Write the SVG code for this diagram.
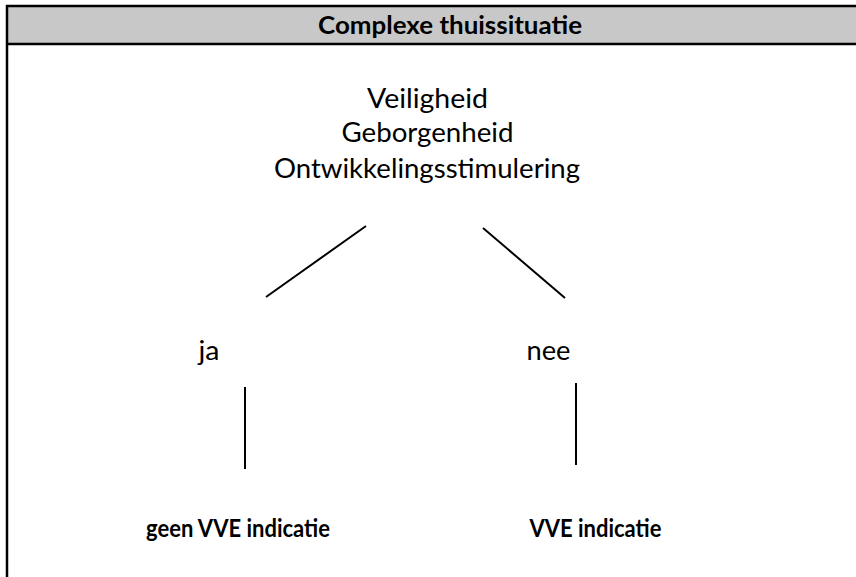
<svg xmlns="http://www.w3.org/2000/svg" width="856" height="577" viewBox="0 0 856 577">
<style>
.t{font-family:Lato,"Open Sans","Liberation Sans",sans-serif;font-size:26px;fill:#000;text-anchor:middle}
.b{font-weight:bold;font-size:25px}
.c{stroke:#000;stroke-width:2;fill:none}
</style>
<rect x="0" y="0" width="856" height="577" fill="#fff"/>
<g id="header">
<rect x="7" y="6" width="860" height="38" fill="#c8c8c8"/>
<line x1="6" y1="6" x2="856" y2="6" stroke="#000" stroke-width="2.5"/>
<line x1="6" y1="44" x2="856" y2="44" stroke="#000" stroke-width="2.5"/>
<line x1="7" y1="5" x2="7" y2="577" stroke="#000" stroke-width="2.5"/>
<text class="t b" x="450" y="34" textLength="264" lengthAdjust="spacingAndGlyphs">Complexe thuissituatie</text>
</g>
<g id="root">
<text class="t" x="427.5" y="108" textLength="121" lengthAdjust="spacingAndGlyphs">Veiligheid</text>
<text class="t" x="427.5" y="142" textLength="172" lengthAdjust="spacingAndGlyphs">Geborgenheid</text>
<text class="t" x="427" y="178" textLength="306" lengthAdjust="spacingAndGlyphs">Ontwikkelingsstimulering</text>
</g>
<g id="ja"><text class="t" x="209" y="360" textLength="21" lengthAdjust="spacingAndGlyphs">ja</text></g>
<g id="nee"><text class="t" x="548.5" y="360" textLength="44" lengthAdjust="spacingAndGlyphs">nee</text></g>
<g id="geen"><text class="t b" x="238" y="537" textLength="184" lengthAdjust="spacingAndGlyphs">geen VVE indicatie</text></g>
<g id="vve"><text class="t b" x="595.5" y="537" textLength="132" lengthAdjust="spacingAndGlyphs">VVE indicatie</text></g>
<g id="connectors" class="c">
<line x1="366" y1="226" x2="266" y2="297"/>
<line x1="483" y1="228" x2="565" y2="298"/>
<line x1="245" y1="387" x2="245" y2="469"/>
<line x1="576" y1="383" x2="576" y2="465"/>
</g>
</svg>
